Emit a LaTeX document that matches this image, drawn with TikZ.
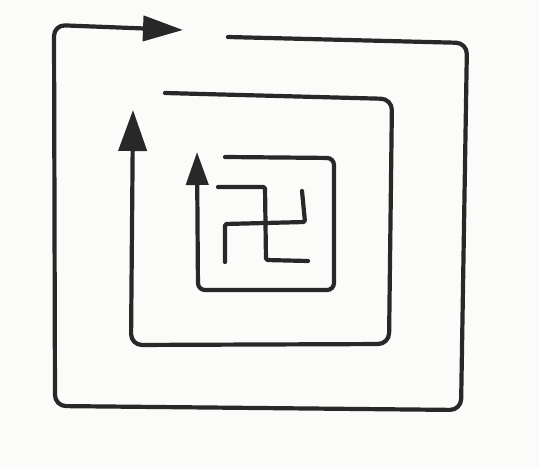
\documentclass[tikz,border=0pt]{standalone}
\usepackage{xcolor}
\definecolor{inkDark}{RGB}{40,40,40}
\definecolor{paperWhite}{RGB}{251,251,250}
\usetikzlibrary{arrows.meta}

\begin{document}
\begin{tikzpicture}[
    x=1pt, y=-1pt,
    penLine/.style={
        draw=inkDark, line width=4.2pt,
        line cap=round, line join=round
    },
    ringLine/.style={penLine, rounded corners=11pt},
    crossLine/.style={penLine, rounded corners=1.5pt},
    outerHead/.style={-{Triangle[length=40pt, width=25pt]}},
    middleHead/.style={-{Triangle[length=41pt, width=28pt]}},
    innerHead/.style={-{Triangle[length=33pt, width=22pt]}}
]

    % Paper
    \fill[paperWhite] (0,0) rectangle (539,468);
    \useasboundingbox (0,0) rectangle (539,468);

    % Outer ring
    \draw[ringLine, outerHead]
        (228,37) -- (467,43) -- (461,410) -- (55,406) -- (54,25) -- (183,30);

    % Middle ring
    \draw[ringLine, middleHead]
        (165,93) -- (392,99) -- (389,344) -- (131,345) -- (133,110);

    % Inner ring
    \draw[penLine, rounded corners=7pt, innerHead]
        (225,157) -- (334,158) -- (334,290) -- (198,290) -- (197,152);

    % Centre sign
    \draw[crossLine] (218,187) -- (265,187) -- (266,260) -- (308,261);
    \draw[crossLine] (302,191) -- (305,222) -- (225,224) -- (225,262);

\end{tikzpicture}
\end{document}
